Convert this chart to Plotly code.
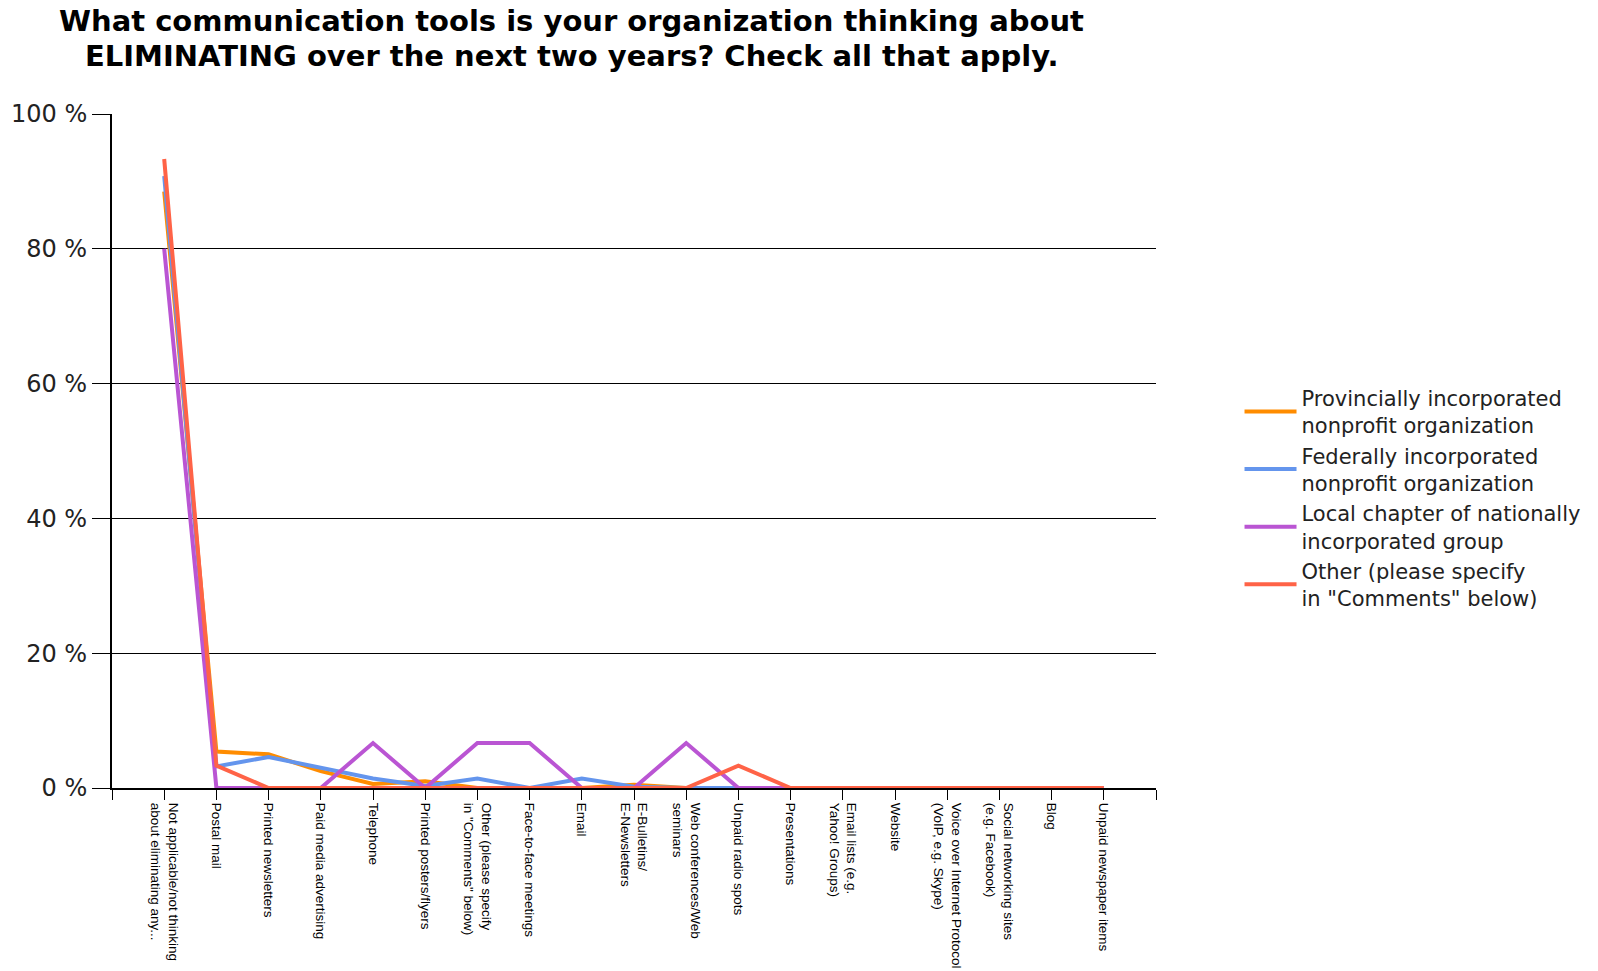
import plotly.graph_objects as go

categories = [
    "Not applicable/not thinking<br>about eliminating any...",
    "Postal mail",
    "Printed newsletters",
    "Paid media advertising",
    "Telephone",
    "Printed posters/flyers",
    "Other (please specify<br>in \"Comments\" below)",
    "Face-to-face meetings",
    "Email",
    "E-Bulletins/<br>E-Newsletters",
    "Web conferences/Web<br>seminars",
    "Unpaid radio spots",
    "Presentations",
    "Email lists (e.g.<br>Yahoo! Groups)",
    "Website",
    "Voice over Internet Protocol<br>(VoIP, e.g. Skype)",
    "Social networking sites<br>(e.g. Facebook)",
    "Blog",
    "Unpaid newspaper items",
]

series_names = [
    "Provincially incorporated<br>nonprofit organization",
    "Federally incorporated<br>nonprofit organization",
    "Local chapter of nationally<br>incorporated group",
    "Other (please specify<br>in \"Comments\" below)",
]

provincial = [88.5, 5.4, 5.0, 2.5, 0.6, 1.0, 0, 0, 0, 0.5, 0, 0, 0, 0, 0, 0, 0, 0, 0]
federal = [90.8, 3.2, 4.6, 3.0, 1.4, 0.3, 1.4, 0, 1.4, 0.2, 0, 0, 0, 0, 0, 0, 0, 0, 0]
local_chapter = [80.0, 0, 0, 0, 6.67, 0, 6.67, 6.67, 0, 0, 6.67, 0, 0, 0, 0, 0, 0, 0, 0]
other = [93.33, 3.33, 0, 0, 0, 0, 0, 0, 0, 0, 0, 3.33, 0, 0, 0, 0, 0, 0, 0]

y_ticks = [0, 20, 40, 60, 80, 100]
y_tick_labels = ["0 %", "20 %", "40 %", "60 %", "80 %", "100 %"]

title_lines = [
    "<b>What communication tools is your organization thinking about</b>",
    "<b>ELIMINATING over the next two years? Check all that apply.</b>",
]

colors = ["#FF8C00", "#6495ED", "#BA55D3", "#FF6347"]

x_idx = list(range(len(categories)))
all_series = [provincial, federal, local_chapter, other]

fig = go.Figure()
for name, vals, col in zip(series_names, all_series, colors):
    fig.add_trace(go.Scatter(
        x=x_idx, y=vals, name=name, mode="lines",
        line=dict(color=col, width=4),
    ))

# title as two stacked annotations (tight line spacing like the original)
for i, line in enumerate(title_lines):
    fig.add_annotation(
        text=line, showarrow=False,
        xref="paper", yref="paper", x=0.44, y=1.1375 - i * 0.0515,
        xanchor="center", yanchor="middle", align="center",
        font=dict(family="DejaVu Sans, Verdana", size=29, color="black"),
    )

fig.update_layout(
    width=1598, height=971,
    margin=dict(l=112, r=442, t=114, b=183, autoexpand=False),
    paper_bgcolor="white", plot_bgcolor="white",
    legend=dict(
        x=1.08, xanchor="left", y=0.43, yanchor="middle",
        font=dict(family="DejaVu Sans, Verdana", size=21, color="#222"),
        itemwidth=52,
        bgcolor="rgba(0,0,0,0)",
    ),
    showlegend=True,
)

fig.update_xaxes(
    range=[-1, len(categories)],
    tickvals=[-1] + x_idx + [len(categories)],
    ticktext=[""] + categories + [""],
    tickangle=90,
    tickfont=dict(family="Liberation Sans Narrow, Arial Narrow, Liberation Sans", size=13.5, color="black"),
    ticks="outside", ticklen=10, tickcolor="black", tickwidth=1,
    ticklabelstandoff=0,
    showline=True, linecolor="black", linewidth=2,
    showgrid=False, zeroline=False, automargin=False,
)
fig.update_yaxes(
    range=[0, 100],
    tickvals=y_ticks,
    ticktext=y_tick_labels,
    tickfont=dict(family="DejaVu Sans, Verdana", size=24, color="#222"),
    ticks="outside", ticklen=18, tickcolor="black", tickwidth=1,
    showline=True, linecolor="black", linewidth=2,
    showgrid=True, gridcolor="black", gridwidth=1,
    zeroline=False, automargin=False,
)

fig.write_html("out.html")
